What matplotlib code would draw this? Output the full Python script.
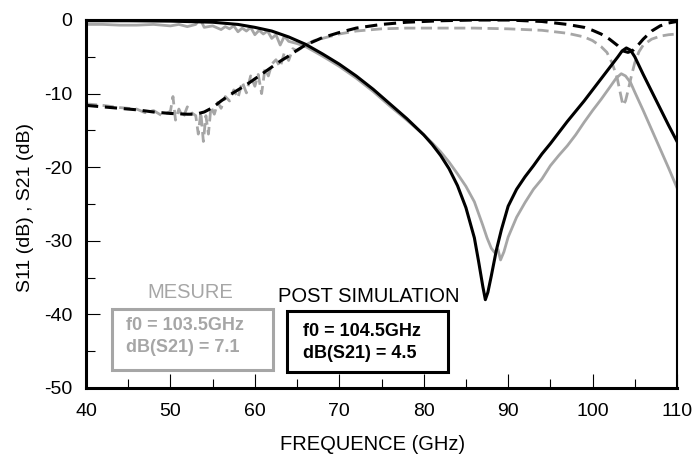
import matplotlib
matplotlib.use("Agg")
import matplotlib.pyplot as plt
from matplotlib.ticker import MultipleLocator
from matplotlib.patches import Rectangle

plt.rcParams['font.family'] = ['Liberation Sans', 'DejaVu Sans']
plt.rcParams['axes.unicode_minus'] = False

GRAY = '#a6a6a6'

# post simulation, solid (S11)
sim_s11_f = [40, 45, 50, 55, 58, 60, 62, 64, 66, 68, 70, 72, 74, 76, 78, 80, 81, 82, 83, 84, 85,
             86, 86.5, 87, 87.3, 87.6, 88, 88.6, 89.2, 90, 91, 92, 93, 94, 95, 96, 97, 98, 99,
             100, 101, 102, 103, 103.5, 104, 104.5, 105, 106, 107, 108, 109, 110]
sim_s11_db = [-0.1, -0.1, -0.15, -0.3, -0.6, -1.0, -1.5, -2.3, -3.3, -4.6, -6.0, -7.6, -9.4, -11.4,
              -13.4, -15.6, -16.9, -18.4, -20.2, -22.5, -25.5, -29.6, -32.8, -36.2, -38.0, -37.0,
              -34.8, -31.3, -28.5, -25.3, -23.0, -21.3, -19.8, -18.2, -16.8, -15.3, -13.8, -12.4,
              -11.0, -9.5, -8.0, -6.5, -5.0, -4.2, -3.8, -4.1, -5.0, -7.4, -9.7, -12.0, -14.3,
              -16.5]

# post simulation, dashed (S21)
sim_s21_f = [40, 42, 44, 46, 48, 50, 52, 53, 54, 55, 56, 57, 58, 59, 60, 61, 62, 63, 64, 65, 66,
             68, 70, 72, 75, 78, 82, 86, 90, 94, 97, 99, 100, 101, 102, 103, 103.6, 104.2, 104.8,
             105.4, 106, 107, 108, 109, 110]
sim_s21_db = [-11.6, -11.8, -12.0, -12.2, -12.5, -12.7, -12.8, -12.8, -12.5, -11.9, -11.0, -10.2,
              -9.5, -8.8, -8.0, -7.2, -6.4, -5.6, -4.9, -4.1, -3.4, -2.4, -1.7, -1.1, -0.6, -0.3,
              -0.1, 0.0, 0.0, -0.2, -0.6, -1.0, -1.4, -1.9, -2.6, -3.5, -4.2, -4.4, -4.1, -3.4,
              -2.6, -1.5, -0.8, -0.4, -0.2]

# measurement, solid (S11)
mes_s11_f = [40, 42, 44, 46, 48, 50, 51, 52, 53, 53.5, 54, 55, 56, 56.5, 57, 57.5, 58, 58.5, 59,
             59.5, 60, 60.5, 61, 61.5, 62, 62.5, 63, 63.5, 64, 65, 66, 68, 70, 72, 74, 76, 78, 80,
             81, 82, 83, 84, 85, 86, 87, 87.5, 88, 88.4, 88.8, 89.1, 89.5, 90, 91, 92, 93, 94, 95,
             96, 97, 98, 99, 100, 101, 102, 102.8, 103.4, 103.9, 104.5, 105, 106, 107, 108, 109,
             110]
mes_s11_db = [-0.6, -0.6, -0.7, -0.7, -0.6, -0.8, -0.6, -0.9, -0.6, 0.2, -1.0, -0.8, -1.3, -0.9,
              -1.2, -0.8, -1.6, -1.1, -1.5, -1.0, -2.0, -1.4, -1.9, -1.5, -2.5, -2.0, -3.4, -2.2,
              -2.9, -3.2, -3.6, -4.9, -6.3, -7.9, -9.7, -11.7, -13.6, -15.6, -16.7, -17.9, -19.3,
              -20.9, -22.6, -24.7, -27.9, -29.6, -31.0, -31.6, -31.2, -32.6, -31.5, -29.5, -26.8,
              -24.8, -23.0, -21.6, -19.8, -18.4, -17.1, -15.6, -13.9, -12.3, -10.8, -9.2, -7.9,
              -7.3, -7.6, -8.5, -9.8, -12.3, -14.9, -17.5, -20.1, -22.8]

# measurement, dashed (S21)
mes_s21_f = [40, 42, 44, 46, 47, 48, 49, 50, 50.3, 50.6, 51, 51.5, 52, 52.5, 53, 53.3, 53.6, 53.9,
             54.2, 54.5, 54.8, 55.2, 55.6, 56, 56.5, 57, 57.5, 58, 58.5, 59, 59.5, 60, 60.4, 60.8,
             61.2, 61.6, 62, 62.5, 63, 63.5, 64, 64.5, 65, 66, 67, 68, 70, 72, 75, 78, 82, 86, 90,
             94, 97, 99, 100, 101, 101.7, 102.3, 102.9, 103.3, 103.6, 103.9, 104.2, 104.6, 105,
             105.5, 106, 107, 108, 109, 110]
mes_s21_db = [-11.4, -11.6, -11.9, -12.1, -12.6, -12.3, -13.0, -12.4, -10.4, -13.6, -12.1, -13.3,
              -11.8, -12.6, -13.0, -15.5, -12.5, -16.5, -13.0, -15.5, -11.8, -12.8, -11.2, -12.0,
              -10.4, -11.0, -9.5, -10.6, -8.4, -9.9, -7.6, -9.0, -7.4, -10.0, -6.6, -7.6, -6.0,
              -5.4, -6.4, -4.4, -5.5, -3.9, -4.2, -3.4, -2.8, -2.5, -1.9, -1.5, -1.2, -1.1, -1.1,
              -1.1, -1.2, -1.4, -1.8, -2.3, -2.8, -3.6, -4.4, -5.8, -7.8, -10.0, -11.6, -11.0,
              -9.6, -7.6, -5.8, -4.3, -3.4, -2.6, -2.2, -2.0, -1.9]

x_ticks = [40, 50, 60, 70, 80, 90, 100, 110]
y_ticks = [0, -10, -20, -30, -40, -50]

fig = plt.figure(figsize=(6.93, 4.57), dpi=100)
ax = fig.add_axes([86 / 693, 1 - 388 / 457, 591 / 693, 368 / 457])

ax.plot(mes_s11_f, mes_s11_db, color=GRAY, lw=2.0)
ax.plot(mes_s21_f, mes_s21_db, color=GRAY, lw=2.0, dashes=(4, 2))
ax.plot(sim_s21_f, sim_s21_db, color='black', lw=2.2, dashes=(4, 2.2))
ax.plot(sim_s11_f, sim_s11_db, color='black', lw=2.2)

ax.set_xlim(40, 110)
ax.set_ylim(-50, 0)
ax.set_xticks(x_ticks)
ax.set_yticks(y_ticks)
ax.xaxis.set_minor_locator(MultipleLocator(5))
ax.yaxis.set_minor_locator(MultipleLocator(5))
ax.tick_params(which='both', direction='in', top=False, right=False, width=0.8, labelsize=14)
ax.tick_params(axis='x', which='both', pad=11)
ax.tick_params(axis='y', which='both', pad=10)
ax.tick_params(which='major', length=10)
ax.tick_params(which='minor', length=6.5)

ax.spines['left'].set_linewidth(2.2)
ax.spines['bottom'].set_linewidth(2.2)
ax.spines['top'].set_linewidth(1.5)
ax.spines['right'].set_linewidth(1.5)

fig.text(373 / 693, 1 - 445 / 457, "FREQUENCE (GHz)", fontsize=14.5, ha='center', va='center')
fig.text(26 / 693, 1 - 208 / 457, "S11 (dB) , S21 (dB)", fontsize=14, rotation=90,
         ha='center', va='center')

# annotation boxes
ax.add_patch(Rectangle((0.044, 0.049), 0.272, 0.166, transform=ax.transAxes,
                       fill=False, ec=GRAY, lw=2.2, clip_on=False))
ax.add_patch(Rectangle((0.340, 0.0435), 0.272, 0.166, transform=ax.transAxes,
                       fill=False, ec='black', lw=2.2, clip_on=False))

fig.text(190 / 693, 1 - 292 / 457, "MESURE", color=GRAY, fontsize=14.5, ha='center', va='center')
fig.text(278 / 693, 1 - 297 / 457, "POST SIMULATION", color='black', fontsize=14.5,
         ha='left', va='center')
fig.text(126 / 693, 1 - 326 / 457, "f0 = 103.5GHz", color=GRAY, fontsize=13,
         fontweight='bold', ha='left', va='center')
fig.text(126 / 693, 1 - 348 / 457, "dB(S21) = 7.1", color=GRAY, fontsize=13,
         fontweight='bold', ha='left', va='center')
fig.text(303 / 693, 1 - 331 / 457, "f0 = 104.5GHz", color='black', fontsize=13,
         fontweight='bold', ha='left', va='center')
fig.text(303 / 693, 1 - 353 / 457, "dB(S21) = 4.5", color='black', fontsize=13,
         fontweight='bold', ha='left', va='center')

fig.savefig("out.png", dpi=100)
